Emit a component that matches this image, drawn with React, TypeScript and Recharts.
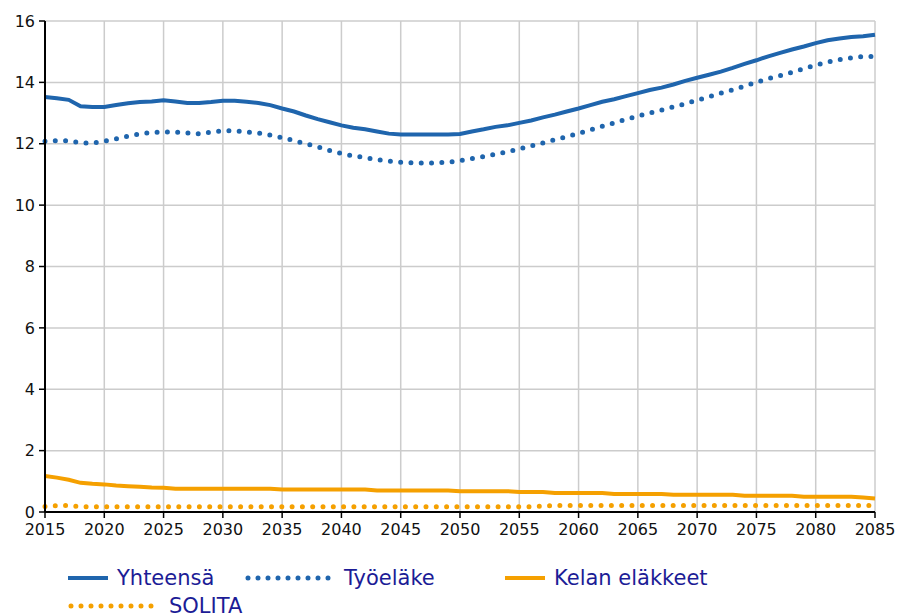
import React from "react";
import { CartesianGrid, Line, LineChart, XAxis, YAxis } from "recharts";

const years = Array.from({ length: 71 }, (_, i) => 2015 + i);

const yhteensa = [
  13.52, 13.48, 13.43, 13.22, 13.2, 13.2, 13.26, 13.32, 13.36, 13.38,
  13.42, 13.38, 13.33, 13.33, 13.36, 13.4, 13.4, 13.37, 13.33, 13.26,
  13.15, 13.05, 12.92, 12.8, 12.7, 12.6, 12.52, 12.47, 12.4, 12.33,
  12.3, 12.3, 12.3, 12.3, 12.3, 12.32, 12.4, 12.47, 12.55, 12.6,
  12.68, 12.76, 12.86, 12.95, 13.05, 13.15, 13.26, 13.37, 13.45, 13.55,
  13.65, 13.75, 13.83, 13.93, 14.05, 14.15, 14.25, 14.35, 14.47, 14.6,
  14.72, 14.85, 14.96, 15.07, 15.17, 15.28, 15.37, 15.43, 15.48, 15.5,
  15.55,
];

const tyoelake = [
  12.08, 12.1, 12.1, 12.03, 12.02, 12.08, 12.16, 12.25, 12.32, 12.37,
  12.38, 12.38, 12.35, 12.32, 12.38, 12.42, 12.42, 12.38, 12.35, 12.28,
  12.2, 12.1, 12.0, 11.9, 11.78, 11.68, 11.6, 11.55, 11.48, 11.43,
  11.4, 11.38, 11.37, 11.38, 11.4, 11.45, 11.52, 11.58, 11.66, 11.74,
  11.83, 11.93, 12.03, 12.13, 12.23, 12.34, 12.45, 12.57, 12.68, 12.8,
  12.9, 13.0, 13.1, 13.2, 13.3, 13.42, 13.53, 13.65, 13.76, 13.88,
  14.0, 14.12, 14.22, 14.33, 14.45, 14.56, 14.66, 14.74, 14.8, 14.84,
  14.85,
];

const kela = [
  1.17, 1.12, 1.05, 0.95, 0.92, 0.9, 0.86, 0.84, 0.82, 0.8,
  0.79, 0.76, 0.76, 0.76, 0.76, 0.76, 0.76, 0.76, 0.76, 0.76,
  0.73, 0.73, 0.73, 0.73, 0.73, 0.73, 0.73, 0.73, 0.7, 0.7,
  0.7, 0.7, 0.7, 0.7, 0.7, 0.68, 0.68, 0.68, 0.68, 0.68,
  0.65, 0.65, 0.65, 0.62, 0.62, 0.62, 0.62, 0.62, 0.59, 0.59,
  0.59, 0.59, 0.59, 0.56, 0.56, 0.56, 0.56, 0.56, 0.56, 0.53,
  0.53, 0.53, 0.53, 0.53, 0.5, 0.5, 0.5, 0.5, 0.5, 0.47,
  0.44,
];

const solita = [
  0.18, 0.21, 0.21, 0.17, 0.17, 0.17, 0.17, 0.17, 0.17, 0.17,
  0.17, 0.17, 0.17, 0.17, 0.17, 0.17, 0.17, 0.17, 0.17, 0.17,
  0.17, 0.17, 0.17, 0.17, 0.17, 0.17, 0.17, 0.17, 0.17, 0.17,
  0.17, 0.17, 0.17, 0.17, 0.17, 0.17, 0.17, 0.17, 0.17, 0.17,
  0.17, 0.17, 0.19, 0.21, 0.21, 0.21, 0.21, 0.21, 0.21, 0.21,
  0.21, 0.21, 0.21, 0.21, 0.21, 0.21, 0.21, 0.21, 0.21, 0.21,
  0.21, 0.21, 0.21, 0.21, 0.21, 0.21, 0.21, 0.21, 0.21, 0.21,
  0.21,
];

const xTicks = [2015, 2020, 2025, 2030, 2035, 2040, 2045, 2050, 2055, 2060, 2065, 2070, 2075, 2080, 2085];
const yTicks = [0, 2, 4, 6, 8, 10, 12, 14, 16];

const BLUE = "#1f65ad";
const ORANGE = "#f5a000";
const FONT = "'DejaVu Sans', Verdana, sans-serif";

const series = [
  { key: "yhteensa", name: "Yhteensä", color: BLUE, dotted: false, lx: 68, ly: 578, len: 40 },
  { key: "tyoelake", name: "Työeläke", color: BLUE, dotted: true, lx: 245, ly: 578, len: 90 },
  { key: "kela", name: "Kelan eläkkeet", color: ORANGE, dotted: false, lx: 505, ly: 578, len: 40 },
  { key: "solita", name: "SOLITA", color: ORANGE, dotted: true, lx: 68, ly: 606, len: 92 },
];

const data = years.map((year, i) => ({
  year,
  yhteensa: yhteensa[i],
  tyoelake: tyoelake[i],
  kela: kela[i],
  solita: solita[i],
}));

export default function App() {
  return (
    <div style={{ position: "absolute", left: 0, top: 0, width: 910, height: 616, overflow: "hidden", background: "#fff", fontFamily: FONT }}>
      <LineChart width={910} height={616} data={data} margin={{ top: 21, right: 35, bottom: 74, left: 0 }}>
        <CartesianGrid stroke="#cccccc" strokeWidth={1.5} verticalValues={xTicks} horizontalValues={yTicks} />
        <XAxis
          dataKey="year"
          type="number"
          domain={[2015, 2085]}
          ticks={xTicks}
          height={30}
          tick={{ fontSize: 16, fill: "#111", fontFamily: FONT }}
          tickSize={6}
          tickMargin={6}
          axisLine={{ stroke: "#000", strokeWidth: 2 }}
          tickLine={{ stroke: "#000", strokeWidth: 1.5 }}
          interval={0}
        />
        <YAxis
          type="number"
          domain={[0, 16]}
          ticks={yTicks}
          width={45}
          tick={{ fontSize: 16, fill: "#111", fontFamily: FONT }}
          tickSize={6}
          tickMargin={4}
          axisLine={{ stroke: "#000", strokeWidth: 2 }}
          tickLine={{ stroke: "#000", strokeWidth: 1.5 }}
          interval={0}
        />
        {series.map((s) => (
          <Line
            key={s.key}
            dataKey={s.key}
            type="linear"
            stroke={s.color}
            strokeWidth={s.dotted ? 5 : 4}
            strokeDasharray={s.dotted ? "0 10.3" : undefined}
            strokeLinecap={s.dotted ? "round" : "butt"}
            dot={false}
            activeDot={false}
            isAnimationActive={false}
          />
        ))}
      </LineChart>
      {series.map((s) => (
        <div key={s.key} style={{ position: "absolute", left: s.lx, top: s.ly - 14, height: 28, display: "flex", alignItems: "center", whiteSpace: "nowrap" }}>
          <svg width={s.len} height={10} style={{ display: "block" }}>
            <line
              x1={s.dotted ? 3 : 0}
              x2={s.len - (s.dotted ? 2 : 0)}
              y1={5}
              y2={5}
              stroke={s.color}
              strokeWidth={s.dotted ? 5 : 4}
              strokeDasharray={s.dotted ? "0 10" : undefined}
              strokeLinecap={s.dotted ? "round" : "butt"}
            />
          </svg>
          <span style={{ marginLeft: 9, fontSize: 21, color: "#1c1c96", lineHeight: "28px" }}>{s.name}</span>
        </div>
      ))}
    </div>
  );
}
